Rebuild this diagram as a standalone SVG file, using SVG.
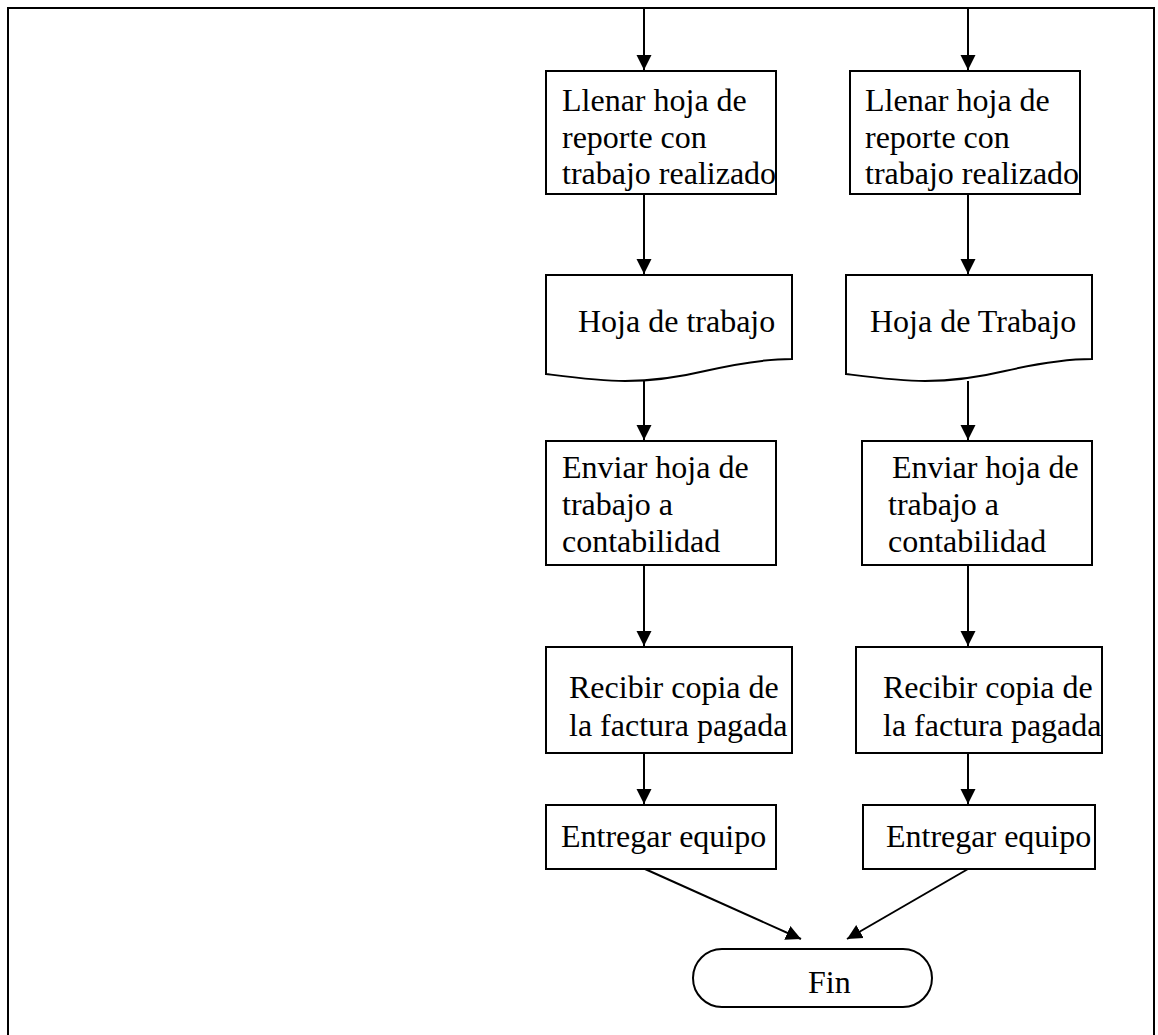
<svg xmlns="http://www.w3.org/2000/svg" width="1158" height="1035" viewBox="0 0 1158 1035">
  <style>
    .shape { fill: #ffffff; stroke: #000000; stroke-width: 2; }
    .lbl { font-family: "Liberation Serif", "Times New Roman", serif; font-size: 32px; fill: #000000; }
    .edge { fill: none; stroke: #000000; stroke-width: 2; }
  </style>
  <defs>
    <marker id="arrow" markerUnits="userSpaceOnUse" markerWidth="16" markerHeight="16" viewBox="0 0 16 16" refX="15" refY="8" orient="auto">
      <path d="M0,0.5 L15,8 L0,15.5 Z" fill="#000000"/>
    </marker>
  </defs>

  <rect width="1158" height="1035" fill="#ffffff"/>
  <!-- frame -->
  <path d="M8,1035 V8 H1154 V1035" fill="none" stroke="#000000" stroke-width="2"/>

  <!-- connectors -->
  <g id="connectors">
    <line class="edge" x1="644" y1="9" x2="644" y2="70" marker-end="url(#arrow)"/>
    <line class="edge" x1="968" y1="9" x2="968" y2="70" marker-end="url(#arrow)"/>
    <line class="edge" x1="644" y1="194" x2="644" y2="274" marker-end="url(#arrow)"/>
    <line class="edge" x1="968" y1="194" x2="968" y2="274" marker-end="url(#arrow)"/>
    <line class="edge" x1="644" y1="379" x2="644" y2="440" marker-end="url(#arrow)"/>
    <line class="edge" x1="968" y1="381" x2="968" y2="440" marker-end="url(#arrow)"/>
    <line class="edge" x1="644" y1="565" x2="644" y2="646" marker-end="url(#arrow)"/>
    <line class="edge" x1="968" y1="565" x2="968" y2="646" marker-end="url(#arrow)"/>
    <line class="edge" x1="644" y1="753" x2="644" y2="804" marker-end="url(#arrow)"/>
    <line class="edge" x1="968" y1="753" x2="968" y2="804" marker-end="url(#arrow)"/>
    <line class="edge" x1="645" y1="869" x2="801" y2="939" marker-end="url(#arrow)"/>
    <line class="edge" x1="968" y1="869" x2="847" y2="939" marker-end="url(#arrow)"/>
  </g>

  <!-- left column -->
  <g id="llenar-1">
    <rect class="shape" x="546" y="71" width="230" height="123"/>
    <text class="lbl" x="562" y="111">Llenar hoja de</text>
    <text class="lbl" x="562" y="148">reporte con</text>
    <text class="lbl" x="562" y="184">trabajo realizado</text>
  </g>
  <g id="hoja-1">
    <path class="shape" d="M546,275 H792 V359 C765,359 740,363 705,371 C680,377 655,381 625,381 C600,381 570,377 546,374 Z"/>
    <text class="lbl" x="578" y="332">Hoja de trabajo</text>
  </g>
  <g id="enviar-1">
    <rect class="shape" x="546" y="441" width="230" height="124"/>
    <text class="lbl" x="562" y="478">Enviar hoja de</text>
    <text class="lbl" x="562" y="515">trabajo a</text>
    <text class="lbl" x="562" y="552">contabilidad</text>
  </g>
  <g id="recibir-1">
    <rect class="shape" x="546" y="647" width="246" height="106"/>
    <text class="lbl" x="569" y="698">Recibir copia de</text>
    <text class="lbl" x="569" y="736">la factura pagada</text>
  </g>
  <g id="entregar-1">
    <rect class="shape" x="546" y="805" width="230" height="64"/>
    <text class="lbl" x="561" y="847">Entregar equipo</text>
  </g>

  <!-- right column -->
  <g id="llenar-2">
    <rect class="shape" x="850" y="71" width="230" height="123"/>
    <text class="lbl" x="865" y="111">Llenar hoja de</text>
    <text class="lbl" x="865" y="148">reporte con</text>
    <text class="lbl" x="865" y="184">trabajo realizado</text>
  </g>
  <g id="hoja-2">
    <path class="shape" d="M846,275 H1092 V359 C1065,359 1040,363 1005,371 C980,377 955,381 925,381 C900,381 870,377 846,374 Z"/>
    <text class="lbl" x="870" y="332">Hoja de Trabajo</text>
  </g>
  <g id="enviar-2">
    <rect class="shape" x="862" y="441" width="230" height="124"/>
    <text class="lbl" x="892" y="478">Enviar hoja de</text>
    <text class="lbl" x="888" y="515">trabajo a</text>
    <text class="lbl" x="888" y="552">contabilidad</text>
  </g>
  <g id="recibir-2">
    <rect class="shape" x="856" y="647" width="246" height="106"/>
    <text class="lbl" x="883" y="698">Recibir copia de</text>
    <text class="lbl" x="883" y="736">la factura pagada</text>
  </g>
  <g id="entregar-2">
    <rect class="shape" x="863" y="805" width="232" height="64"/>
    <text class="lbl" x="886" y="847">Entregar equipo</text>
  </g>

  <!-- terminator -->
  <g id="fin">
    <rect class="shape" x="693" y="949" width="239" height="58" rx="29" ry="29"/>
    <text class="lbl" x="808" y="993">Fin</text>
  </g>
</svg>
